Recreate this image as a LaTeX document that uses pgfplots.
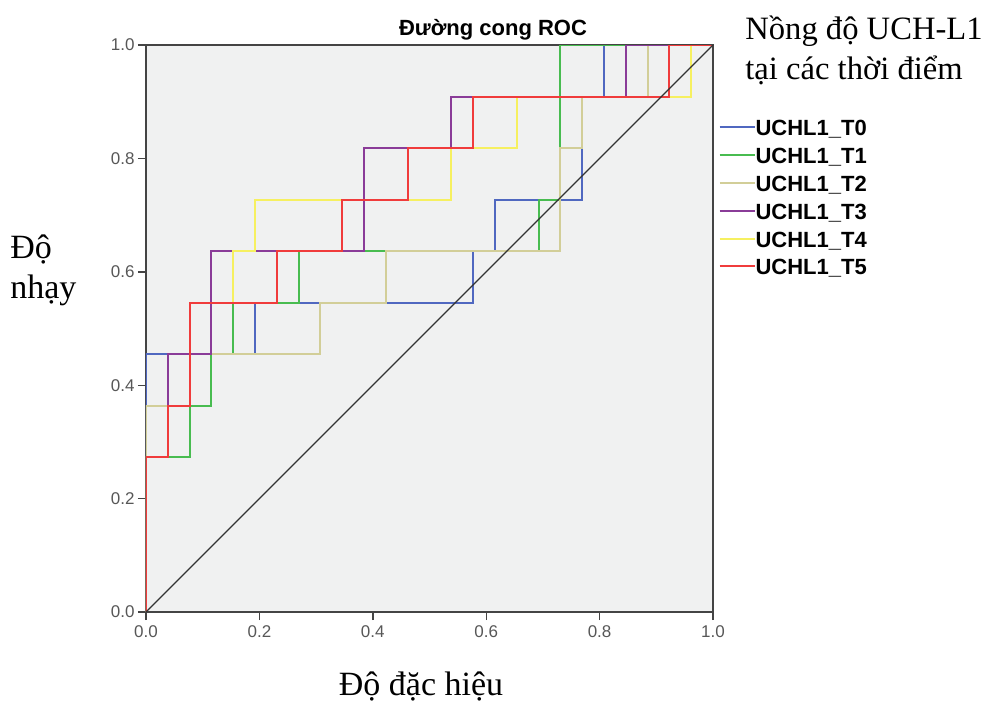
\documentclass[border=0pt]{standalone}
\usepackage{fontspec}
\setmainfont{Liberation Serif}
\setsansfont{Liberation Sans}
\usepackage{pgfplots}
\pgfplotsset{compat=1.18}

\definecolor{cT0}{HTML}{5068C0}
\definecolor{cT1}{HTML}{48BC50}
\definecolor{cT2}{HTML}{D2CE98}
\definecolor{cT3}{HTML}{8A3C98}
\definecolor{cT4}{HTML}{F6F060}
\definecolor{cT5}{HTML}{F03C3C}
\definecolor{bgc}{HTML}{F0F1F1}
\definecolor{axc}{HTML}{444444}

\begin{document}
\begin{tikzpicture}
\path[use as bounding box] (-73pt,-45.5pt) rectangle (424.5pt,306pt);
\begin{axis}[
  at={(0,0)}, anchor=south west,
  scale only axis, width=283.5pt, height=283.5pt,
  xmin=0, xmax=1, ymin=0, ymax=1,
  axis background/.style={fill=bgc},
  axis line style={draw=axc, line width=0.8pt},
  xtick={0,0.2,0.4,0.6,0.8,1}, ytick={0,0.2,0.4,0.6,0.8,1},
  tick pos=left, tick align=outside, major tick length=4pt,
  tick style={draw=axc, line width=0.7pt},
  ticklabel style={font=\sffamily\fontsize{8.5}{10}\selectfont, text=axc!90, inner sep=1.5pt},
  xticklabel style={inner sep=2.8pt},
  /pgf/number format/assume math mode=true,
  /pgf/number format/fixed, /pgf/number format/fixed zerofill,
  /pgf/number format/precision=1,
  legend cell align=left,
  legend image code/.code={\draw[#1] (0pt,2.2pt) -- (17.5pt,2.2pt);},
  legend style={at={(axis description cs:1.009,0.872)}, anchor=north west,
    draw=none, fill=none, inner sep=0pt, row sep=0pt,
    font=\sffamily\bfseries\fontsize{11}{13}\selectfont,
    nodes={inner sep=0pt, text height=9pt, text depth=4.9pt},
    /tikz/every even column/.style={column sep=2pt}},
  every axis plot/.append style={line width=1pt},
]
\addplot[cT0] coordinates {(0,0)(0,0.4545)(0.1923,0.4545)(0.1923,0.5455)(0.5769,0.5455)(0.5769,0.6364)(0.6154,0.6364)(0.6154,0.7273)(0.7692,0.7273)(0.7692,0.9091)(0.8077,0.9091)(0.8077,1)(1,1)};
\addplot[cT1] coordinates {(0,0)(0,0.2727)(0.0769,0.2727)(0.0769,0.3636)(0.1154,0.3636)(0.1154,0.4545)(0.1538,0.4545)(0.1538,0.5455)(0.2692,0.5455)(0.2692,0.6364)(0.6923,0.6364)(0.6923,0.7273)(0.7308,0.7273)(0.7308,1)(1,1)};
\addplot[cT2] coordinates {(0,0)(0,0.3636)(0.0385,0.3636)(0.0385,0.4545)(0.3077,0.4545)(0.3077,0.5455)(0.4231,0.5455)(0.4231,0.6364)(0.7308,0.6364)(0.7308,0.8182)(0.7692,0.8182)(0.7692,0.9091)(0.8846,0.9091)(0.8846,1)(1,1)};
\addplot[cT3] coordinates {(0,0)(0,0.2727)(0.0385,0.2727)(0.0385,0.4545)(0.1154,0.4545)(0.1154,0.6364)(0.3846,0.6364)(0.3846,0.8182)(0.5385,0.8182)(0.5385,0.9091)(0.8462,0.9091)(0.8462,1)(1,1)};
\addplot[cT4] coordinates {(0,0)(0,0.2727)(0.0385,0.2727)(0.0385,0.3636)(0.0769,0.3636)(0.0769,0.5455)(0.1538,0.5455)(0.1538,0.6364)(0.1923,0.6364)(0.1923,0.7273)(0.5385,0.7273)(0.5385,0.8182)(0.6538,0.8182)(0.6538,0.9091)(0.9615,0.9091)(0.9615,1)(1,1)};
\addplot[cT5] coordinates {(0,0)(0,0.2727)(0.0385,0.2727)(0.0385,0.3636)(0.0769,0.3636)(0.0769,0.5455)(0.2308,0.5455)(0.2308,0.6364)(0.3462,0.6364)(0.3462,0.7273)(0.4615,0.7273)(0.4615,0.8182)(0.5769,0.8182)(0.5769,0.9091)(0.9231,0.9091)(0.9231,1)(1,1)};
\legend{UCHL1\_T0,UCHL1\_T1,UCHL1\_T2,UCHL1\_T3,UCHL1\_T4,UCHL1\_T5}
\addplot[forget plot, color=black!80, line width=0.7pt] coordinates {(0,0)(1,1)};
\end{axis}
\node[font=\sffamily\bfseries\fontsize{11}{13}\selectfont] at (173.5pt,291pt) {Đường cong ROC};
\node[font=\fontsize{17}{20}\selectfont] at (137.5pt,-37pt) {Độ đặc hiệu};
\node[anchor=west, align=left, inner sep=0pt, font=\fontsize{17}{20}\selectfont] at (-68pt,171pt) {Độ\\nhạy};
\node[anchor=west, align=left, inner sep=0pt, font=\fontsize{16.3}{20}\selectfont] at (299.5pt,281pt) {Nồng độ UCH-L1\\tại các thời điểm};
\end{tikzpicture}
\end{document}
